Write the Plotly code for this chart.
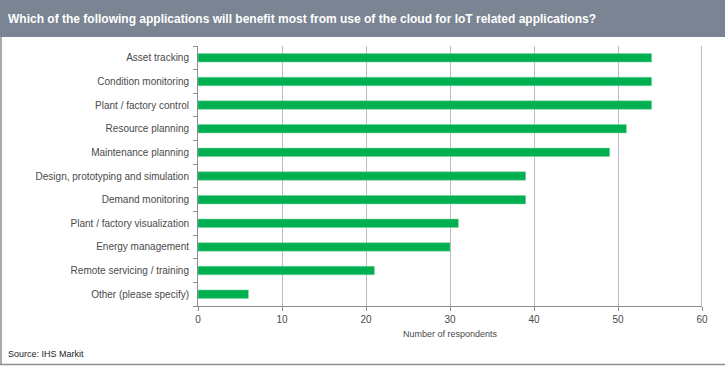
import plotly.graph_objects as go

categories = [
    "Asset tracking",
    "Condition monitoring",
    "Plant / factory control",
    "Resource planning",
    "Maintenance planning",
    "Design, prototyping and simulation",
    "Demand monitoring",
    "Plant / factory visualization",
    "Energy management",
    "Remote servicing / training",
    "Other (please specify)",
]
values = [54, 54, 54, 51, 49, 39, 39, 31, 30, 21, 6]
x_ticks = [0, 10, 20, 30, 40, 50, 60]

W, H = 725, 366
L, R, T, B = 198, 23, 46, 60
PW, PH = W - L - R, H - T - B


def px(xp):
    return (xp - L) / PW


def py(yp):
    return (H - B - yp) / PH


fig = go.Figure()
fig.add_trace(go.Bar(
    y=categories, x=values, orientation="h",
    marker=dict(color="#00b050", line=dict(color="#7fd4a0", width=0.5)),
    width=0.36,
))

fig.update_layout(
    width=W, height=H,
    margin=dict(l=L, r=R, t=T, b=B),
    paper_bgcolor="white", plot_bgcolor="white",
    showlegend=False,
    font=dict(family="Liberation Sans, Arial, sans-serif", color="#404040"),
    xaxis=dict(
        range=[0, 60], tickvals=x_ticks, showgrid=True, gridcolor="#b9bdc4",
        gridwidth=1.2, zeroline=False, showline=True, linecolor="#8a8f96",
        ticks="outside", ticklen=4, tickcolor="#8a8f96",
        tickfont=dict(size=10, color="#4a4a4a"),
        title=dict(text="Number of respondents", font=dict(size=9, color="#4a4a4a"), standoff=6),
        fixedrange=True,
    ),
    yaxis=dict(
        categoryorder="array", categoryarray=categories[::-1],
        showgrid=False, showline=True, linecolor="#8a8f96",
        ticks="outside", ticklen=4, tickcolor="#8a8f96", tickson="boundaries",
        ticklabelstandoff=6,
        tickfont=dict(size=10, color="#4a4a4a"),
        fixedrange=True,
    ),
)

shapes = [
    # title bar
    dict(type="rect", xref="paper", yref="paper", x0=px(0), x1=px(W), y0=py(37), y1=py(0),
         fillcolor="#7a8492", line=dict(width=0), layer="below"),
    # left border
    dict(type="line", xref="paper", yref="paper", x0=px(1), x1=px(1), y0=py(37), y1=py(365),
         line=dict(color="#8a8f96", width=1.5)),
    # bottom border
    dict(type="line", xref="paper", yref="paper", x0=px(0), x1=px(W), y0=py(364.5), y1=py(364.5),
         line=dict(color="#8a8f96", width=1.5)),
    # right edge of plot (x=60) darker
    dict(type="line", xref="x", yref="paper", x0=60, x1=60, y0=0, y1=1,
         line=dict(color="#8a8f96", width=1.2)),
]
fig.update_layout(shapes=shapes)

fig.add_annotation(
    text="<b>Which of the following applications will benefit most from use of the cloud for IoT related applications?</b>",
    xref="paper", yref="paper", x=px(6), y=py(19), xanchor="left", yanchor="middle",
    showarrow=False, font=dict(size=12, color="white", family="Liberation Sans, Arial, sans-serif"),
)
fig.add_annotation(
    text="Source: IHS Markit",
    xref="paper", yref="paper", x=px(6), y=py(354), xanchor="left", yanchor="middle",
    showarrow=False, font=dict(size=9, color="#222222"),
)

fig.write_html(
    "out.html",
    config={"displayModeBar": False},
    post_script="document.body.style.margin='0';document.body.style.padding='0';document.body.style.overflow='hidden';",
)
